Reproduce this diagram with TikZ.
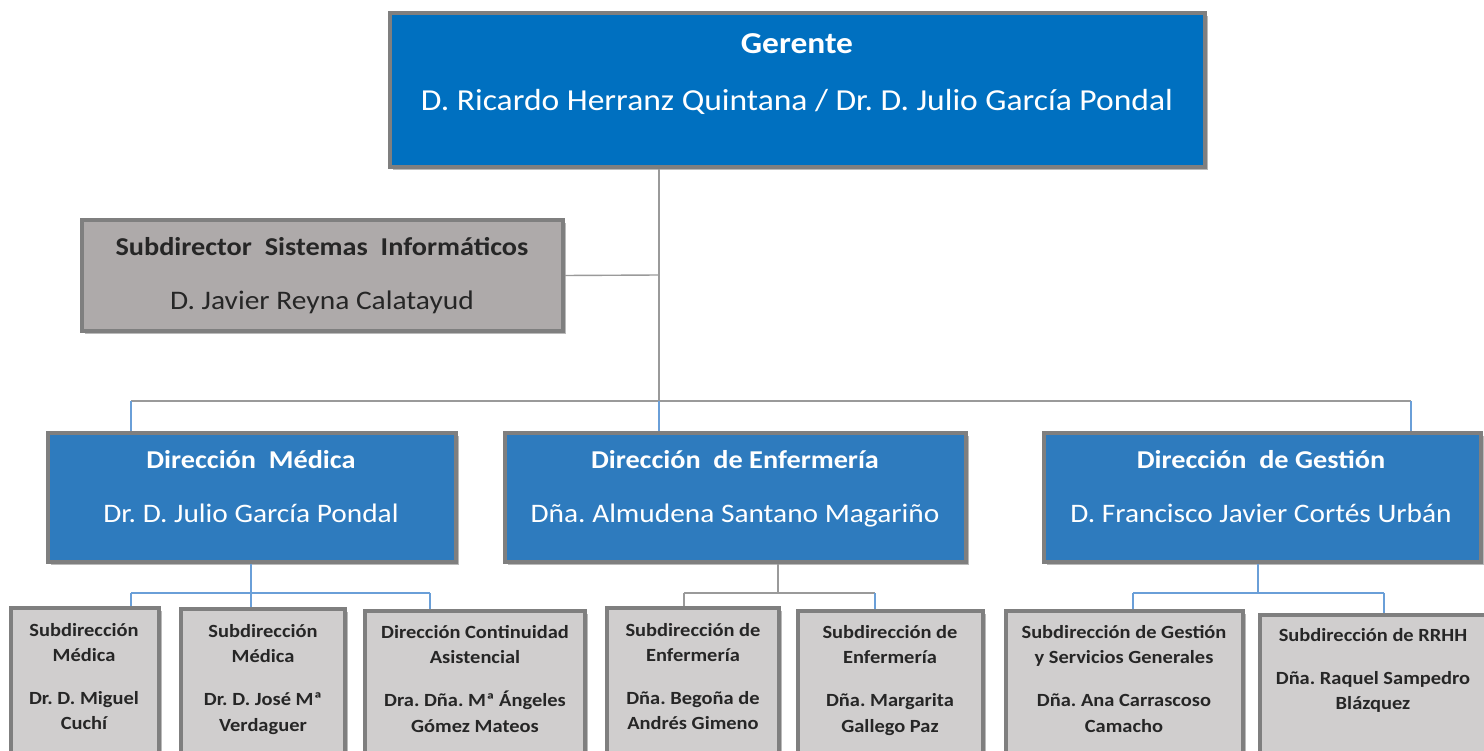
\documentclass[tikz,border=0pt]{standalone}
\usepackage{fontspec}
\setmainfont{Carlito}[FakeStretch=1.1]
\usetikzlibrary{shadows}
\frenchspacing
\definecolor{gerblue}{HTML}{0070C0}
\definecolor{dirblue}{HTML}{2E7BBE}
\definecolor{subgray}{HTML}{AEAAAA}
\definecolor{lightgray3}{HTML}{D0CECE}
\definecolor{bordergray}{HTML}{7F7F7F}
\definecolor{linegray}{HTML}{9A9A9A}
\definecolor{lineblue}{HTML}{6A9FD8}
\tikzset{
  box/.style={draw=bordergray, line width=3.5pt, inner sep=0pt,
    drop shadow={shadow xshift=3pt, shadow yshift=-3pt, opacity=0.45, fill=black!60}},
  gerbox/.style={box, fill=gerblue},
  dirbox/.style={box, fill=dirblue},
  subbox/.style={box, fill=subgray},
  lowbox/.style={box, fill=lightgray3},
  txt/.style={inner sep=0pt, anchor=base},
  wtitle/.style={txt, text=white, font=\bfseries\fontsize{25.7}{30}\selectfont},
  wname/.style={txt, text=white, font=\fontsize{26.7}{30}\selectfont},
  gtitle/.style={txt, text=white, font=\bfseries\fontsize{30.4}{34}\selectfont},
  gname/.style={txt, text=white, font=\fontsize{30.5}{34}\selectfont},
  stitle/.style={txt, text=black!85, font=\bfseries\fontsize{25.7}{30}\selectfont},
  sname/.style={txt, text=black!85, font=\fontsize{26.8}{30}\selectfont},
  lt/.style={txt, text=black!85, font=\bfseries\fontsize{18.6}{22}\selectfont},
  gline/.style={draw=linegray, line width=1.4pt},
  bline/.style={draw=lineblue, line width=1.4pt},
}
\begin{document}
\begin{tikzpicture}[x=1pt,y=-1pt]
\useasboundingbox (0,0) rectangle (1484,751);
\clip (0,0) rectangle (1484,751);
% boxes
\node[gerbox, minimum width=815pt, minimum height=154pt] (ger) at (797.5,90) {};
\node[subbox, minimum width=481pt, minimum height=111pt] (sub) at (322.5,275.5) {};
\node[dirbox, minimum width=408pt, minimum height=129pt] (med) at (252,497.5) {};
\node[dirbox, minimum width=461pt, minimum height=129pt] (enf) at (735.5,497.5) {};
\node[dirbox, minimum width=437pt, minimum height=129pt] (ges) at (1262.5,497.5) {};
\node[lowbox, minimum width=148pt, minimum height=172pt] (b1) at (85,694) {};
\node[lowbox, minimum width=164pt, minimum height=171pt] (b2) at (263,694.5) {};
\node[lowbox, minimum width=220pt, minimum height=169pt] (b3) at (475,695.5) {};
\node[lowbox, minimum width=172pt, minimum height=172pt] (b4) at (693,694) {};
\node[lowbox, minimum width=185pt, minimum height=169pt] (b5) at (890.5,695.5) {};
\node[lowbox, minimum width=237pt, minimum height=169pt] (b6) at (1124.5,695.5) {};
\node[lowbox, minimum width=234pt, minimum height=165pt] (b7) at (1377,697.5) {};
% texts (positions are baselines)
\node[gtitle] (gerT) at (797,54) {Gerente};
\node[gname] (gerN) at (797,111) {D. Ricardo Herranz Quintana / Dr. D. Julio García Pondal};
\node[stitle] (subT) at (322,256) {Subdirector\ \ Sistemas\ \ Informáticos};
\node[sname] (subN) at (322,310) {D. Javier Reyna Calatayud};
\node[wtitle] (medT) at (251,468) {Dirección\ \ Médica};
\node[wname] (medN) at (251,522) {Dr. D. Julio García Pondal};
\node[wtitle] (enfT) at (735,468) {Dirección\ \ de Enfermería};
\node[wname] (enfN) at (735,522) {Dña. Almudena Santano Magariño};
\node[wtitle] (gesT) at (1261,468) {Dirección\ \ de Gestión};
\node[wname] (gesN) at (1261,522) {D. Francisco Javier Cortés Urbán};
\node[lt] (b1a) at (84,636.5) {Subdirección};
\node[lt] (b1b) at (84,661.5) {Médica};
\node[lt] (b1c) at (84,704.5) {Dr. D. Miguel};
\node[lt] (b1d) at (84,729.5) {Cuchí};
\node[lt] (b2a) at (263,637.5) {Subdirección};
\node[lt] (b2b) at (263,662.5) {Médica};
\node[lt] (b2c) at (263,705.5) {Dr. D. José Mª};
\node[lt] (b2d) at (263,731.5) {Verdaguer};
\node[lt] (b3a) at (475,638.5) {Dirección Continuidad};
\node[lt] (b3b) at (475,663.5) {Asistencial};
\node[lt] (b3c) at (475,706.5) {Dra. Dña. Mª Ángeles};
\node[lt] (b3d) at (475,732.5) {Gómez Mateos};
\node[lt] (b4a) at (693,636.5) {Subdirección de};
\node[lt] (b4b) at (693,661.5) {Enfermería};
\node[lt] (b4c) at (693,704.5) {Dña. Begoña de};
\node[lt] (b4d) at (693,729.5) {Andrés Gimeno};
\node[lt] (b5a) at (890,638.5) {Subdirección de};
\node[lt] (b5b) at (890,663.5) {Enfermería};
\node[lt] (b5c) at (890,706.5) {Dña. Margarita};
\node[lt] (b5d) at (890,732.5) {Gallego Paz};
\node[lt] (b6a) at (1124,638.5) {Subdirección de Gestión};
\node[lt] (b6b) at (1124,663.5) {y Servicios Generales};
\node[lt] (b6c) at (1124,706.5) {Dña. Ana Carrascoso};
\node[lt] (b6d) at (1124,732.5) {Camacho};
\node[lt] (b7a) at (1373,641.5) {Subdirección de RRHH};
\node[lt] (b7c) at (1373,684.5) {Dña. Raquel Sampedro};
\node[lt] (b7d) at (1373,709.5) {Blázquez};
% junction coordinates
\coordinate (trunk) at (659,401);
\coordinate (subj) at (659,275);
\coordinate (hl) at (131,401);
\coordinate (hr) at (1411,401);
\coordinate (mj) at (251,593);
\coordinate (ml) at (131,593);
\coordinate (mr) at (430,593);
\coordinate (ej) at (778,593);
\coordinate (el) at (684,593);
\coordinate (er) at (875,593);
\coordinate (gj) at (1258,593);
\coordinate (gl) at (1133,593);
\coordinate (gr) at (1384,593);
% connectors
\draw[gline] (ger.south -| trunk) -- (trunk);
\draw[gline] (sub.east) -- (subj);
\draw[gline] (hl) -- (hr);
\draw[bline] (hl) -- (hl |- med.north);
\draw[bline] (trunk) -- (trunk |- enf.north);
\draw[bline] (hr) -- (hr |- ges.north);
\draw[bline] (med.south -| mj) -- (mj) -- (mj |- b2.north);
\draw[bline] (ml) -- (mr);
\draw[bline] (ml) -- (ml |- b1.north);
\draw[bline] (mr) -- (mr |- b3.north);
\draw[gline] (enf.south -| ej) -- (ej);
\draw[gline] (el) -- (er);
\draw[gline] (el) -- (el |- b4.north);
\draw[bline] (er) -- (er |- b5.north);
\draw[bline] (ges.south -| gj) -- (gj);
\draw[bline] (gl) -- (gr);
\draw[bline] (gl) -- (gl |- b6.north);
\draw[bline] (gr) -- (gr |- b7.north);
\end{tikzpicture}
\end{document}
